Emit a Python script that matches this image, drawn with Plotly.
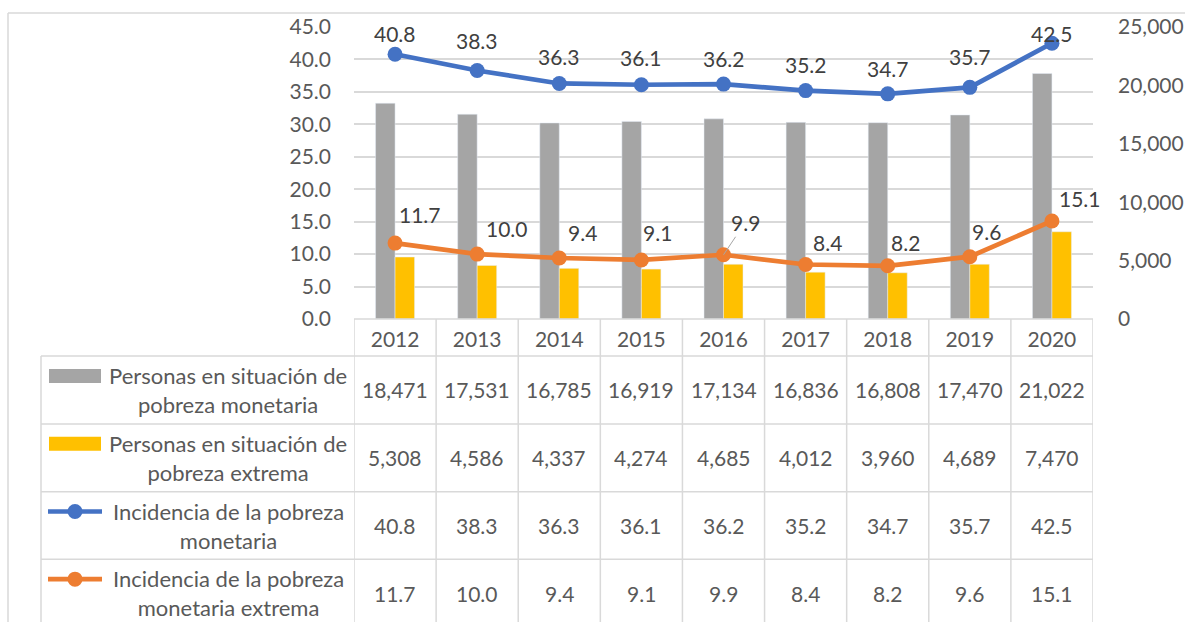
import plotly.graph_objects as go

# ---------------- data ----------------
years = ["2012", "2013", "2014", "2015", "2016", "2017", "2018", "2019", "2020"]
personas_pobreza = [18471, 17531, 16785, 16919, 17134, 16836, 16808, 17470, 21022]
personas_extrema = [5308, 4586, 4337, 4274, 4685, 4012, 3960, 4689, 7470]
incidencia_pobreza = [40.8, 38.3, 36.3, 36.1, 36.2, 35.2, 34.7, 35.7, 42.5]
incidencia_extrema = [11.7, 10.0, 9.4, 9.1, 9.9, 8.4, 8.2, 9.6, 15.1]

name_pobreza = "Personas en situación de<br>pobreza monetaria"
name_extrema = "Personas en situación de<br>pobreza extrema"
name_inc = "Incidencia de la pobreza<br>monetaria"
name_inc_ext = "Incidencia de la pobreza<br>monetaria extrema"

# ---------------- style / geometry ----------------
W, H = 1185, 622
PL, PR, PT, PB = 354, 1093, 27, 319
GRAY, YELLOW, BLUE, ORANGE = "#a5a5a5", "#ffc000", "#4472c4", "#ed7d31"
GRID = "#d9d9d9"
TXT = "#595959"
LBL = "#404040"
FONT = "Lato"
FS = 21


def fx(px):
    return px / W


def fy(py):
    return 1 - py / H


# data-label offsets in pixels (styling only)
blue_dy = [21, 30, 26.5, 27, 26, 25.6, 25.8, 31, 10]
orange_dx = [24.5, 30, 23, 16.5, 21.5, 21.5, 18, 17, 28]
orange_dy = [29, 26, 26, 27, 32, 22, 23, 25, 23]

fig = go.Figure()

fig.add_trace(go.Bar(x=years, y=personas_pobreza, name=name_pobreza,
                     marker=dict(color=GRAY), yaxis="y", hoverinfo="skip"))
fig.add_trace(go.Bar(x=years, y=personas_extrema, name=name_extrema,
                     marker=dict(color=YELLOW), yaxis="y", hoverinfo="skip"))
fig.add_trace(go.Scatter(x=years, y=incidencia_pobreza, name=name_inc, yaxis="y2",
                         mode="lines+markers", line=dict(color=BLUE, width=4.7),
                         marker=dict(color=BLUE, size=15), hoverinfo="skip"))
fig.add_trace(go.Scatter(x=years, y=incidencia_extrema, name=name_inc_ext, yaxis="y2",
                         mode="lines+markers", line=dict(color=ORANGE, width=4.7),
                         marker=dict(color=ORANGE, size=15), hoverinfo="skip"))

annotations = []
for i, v in enumerate(incidencia_pobreza):
    annotations.append(dict(x=i, y=v, xref="x", yref="y2", text=f"{v:.1f}",
                            showarrow=False, yshift=blue_dy[i],
                            font=dict(family=FONT, size=FS, color=LBL)))
for i, v in enumerate(incidencia_extrema):
    if years[i] == "2016":
        annotations.append(dict(x=i, y=v, xref="x", yref="y2", text=f"{v:.1f}",
                                showarrow=True, ax=orange_dx[i], ay=-orange_dy[i],
                                arrowhead=0, arrowwidth=1, arrowcolor="#a6a6a6",
                                font=dict(family=FONT, size=FS, color=LBL)))
    else:
        annotations.append(dict(x=i, y=v, xref="x", yref="y2", text=f"{v:.1f}",
                                showarrow=False, xshift=orange_dx[i], yshift=orange_dy[i],
                                font=dict(family=FONT, size=FS, color=LBL)))

row_bounds = [356, 424, 491.7, 559.3, 627]
rows = [
    (name_pobreza, [f"{v:,}" for v in personas_pobreza], "rect", GRAY),
    (name_extrema, [f"{v:,}" for v in personas_extrema], "rect", YELLOW),
    (name_inc, [f"{v:.1f}" for v in incidencia_pobreza], "line", BLUE),
    (name_inc_ext, [f"{v:.1f}" for v in incidencia_extrema], "line", ORANGE),
]

shapes = []
# outer chart frame (cut by the picture edges on the right and bottom)
shapes.append(dict(type="line", xref="paper", yref="paper", x0=fx(8), x1=fx(8),
                   y0=fy(13), y1=fy(640), line=dict(color=GRID, width=1.5)))
shapes.append(dict(type="line", xref="paper", yref="paper", x0=fx(8), x1=fx(1200),
                   y0=fy(13), y1=fy(13), line=dict(color=GRID, width=1.5)))

for r, (label, vals, kind, col) in enumerate(rows):
    top, bot = row_bounds[r], row_bounds[r + 1]
    cy = (top + bot) / 2
    first_line = cy - 14
    annotations.append(dict(x=fx(228), y=fy(cy), xref="paper", yref="paper",
                            text=label, showarrow=False, align="center",
                            xanchor="center", yanchor="middle",
                            font=dict(family=FONT, size=22, color=TXT)))
    for j, t in enumerate(vals):
        annotations.append(dict(x=j, y=fy(cy), xref="x", yref="paper", text=t,
                                showarrow=False, yanchor="middle",
                                font=dict(family=FONT, size=FS, color=TXT)))
    if kind == "rect":
        shapes.append(dict(type="rect", xref="paper", yref="paper",
                           x0=fx(49), x1=fx(101), y0=fy(first_line - 7), y1=fy(first_line + 7),
                           fillcolor=col, line=dict(width=0)))
    else:
        shapes.append(dict(type="line", xref="paper", yref="paper",
                           x0=fx(48), x1=fx(102), y0=fy(first_line), y1=fy(first_line),
                           line=dict(color=col, width=4.7)))
        shapes.append(dict(type="circle", xref="paper", yref="paper",
                           x0=fx(67.5), x1=fx(82.5), y0=fy(first_line - 7.5), y1=fy(first_line + 7.5),
                           fillcolor=col, line=dict(width=0)))
    shapes.append(dict(type="line", xref="paper", yref="paper", x0=fx(41), x1=fx(PR),
                       y0=fy(top), y1=fy(top), line=dict(color=GRID, width=1.5)))

shapes.append(dict(type="line", xref="paper", yref="paper", x0=fx(PL), x1=fx(PR),
                   y0=fy(PB), y1=fy(PB), line=dict(color=GRID, width=1.5)))
shapes.append(dict(type="line", xref="paper", yref="paper", x0=fx(41), x1=fx(41),
                   y0=fy(356), y1=fy(640), line=dict(color=GRID, width=1.5)))
for k in range(len(years) + 1):
    shapes.append(dict(type="line", xref="x", yref="paper", x0=k - 0.5, x1=k - 0.5,
                       y0=fy(PB), y1=fy(640), line=dict(color=GRID, width=1.5)))

fig.update_layout(
    width=W, height=H,
    margin=dict(l=0, r=0, t=0, b=0, pad=0, autoexpand=False),
    paper_bgcolor="white", plot_bgcolor="white",
    font=dict(family=FONT, size=FS, color=TXT),
    showlegend=False,
    barmode="group", bargap=0.525, bargroupgap=0,
    xaxis=dict(domain=[fx(PL), fx(PR)], type="category", range=[-0.5, 8.5],
               showgrid=False, showline=False, zeroline=False, ticks="",
               tickfont=dict(family=FONT, size=FS, color=TXT), ticklabelstandoff=6),
    yaxis=dict(domain=[fy(PB), fy(PT)], side="right", range=[0, 25000], dtick=5000,
               tickformat=",", showgrid=False, zeroline=False, showline=False,
               ticks="", ticklabelstandoff=24,
               tickfont=dict(family=FONT, size=FS, color=TXT)),
    yaxis2=dict(overlaying="y", side="left", range=[0, 45], dtick=5, tickformat=".1f",
                showgrid=True, gridcolor=GRID, gridwidth=1.5, zeroline=False,
                showline=False, ticks="", ticklabelstandoff=22,
                tickfont=dict(family=FONT, size=FS, color=TXT)),
    annotations=annotations,
    shapes=shapes,
)

fig.write_html("out.html", config={"displayModeBar": False},
               post_script="document.body.style.margin='0px';")
